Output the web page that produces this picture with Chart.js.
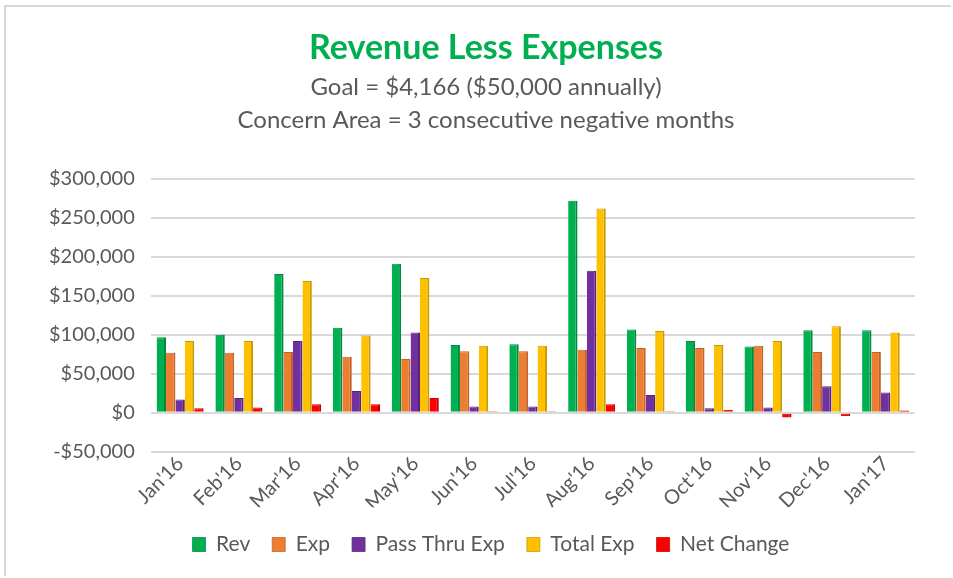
<html>
<head>
<meta charset="utf-8"/>
<title>Revenue Less Expenses</title>
<script src="https://cdn.jsdelivr.net/npm/chart.js@4.4.1/dist/chart.umd.min.js"></script>
<style>
  body { margin: 0; background: #fff; }
  #frame { position: absolute; left: 4px; top: 5px; width: 947px; height: 571px; border: 2px solid #d9d9d9; border-right: none; border-bottom: none; box-sizing: border-box; }
  #wrap { position: absolute; left: 0; top: 0; width: 953px; height: 578px; }
</style>
</head>
<body>
<div id="frame"></div>
<div id="wrap"><canvas id="myChart"></canvas></div>
<script>
// months
var months = ["Jan'16","Feb'16","Mar'16","Apr'16","May'16","Jun'16","Jul'16","Aug'16","Sep'16","Oct'16","Nov'16","Dec'16","Jan'17"];
// values
var rev       = [97000, 100000, 178000, 109000, 191000, 87000, 88000, 272000, 107000, 92000, 85000, 106000, 106000];
var exp       = [77000, 77000, 78000, 72000, 69000, 79000, 79000, 81000, 83000, 83000, 86000, 78000, 78000];
var passThru  = [17000, 19000, 92000, 28000, 103000, 8000, 8000, 182000, 23000, 6000, 7000, 34000, 26000];
var totalExp  = [92000, 92000, 169000, 99000, 173000, 86000, 86000, 262000, 105000, 87000, 92000, 111000, 103000];
var netChange = [6000, 7000, 11000, 11000, 19000, 2000, 2000, 11000, 2000, 4000, -6000, -4000, 3000];

function money(v){
    var s = '$' + Math.abs(v).toLocaleString('en-US');
    return v < 0 ? '-' + s : s;
}

function series(label, data, fill, side){
    return {
        label: label, data: data,
        backgroundColor: fill, borderColor: side,
        borderWidth: {right: 2, top: 1, left: 0, bottom: 0},
        borderSkipped: false,
        categoryPercentage: 0.8, barPercentage: 1.0
    };
}

// nudge title and legend a little to the right, like the excel original
var nudge = {
    id: 'nudge',
    afterLayout: function(chart){
        chart.boxes.forEach(function(b){
            var dx = 0;
            if (b === chart.legend) dx = 17;
            else if (b.position === 'top') dx = 12;
            b.left += dx; b.right += dx;
        });
    }
};

var ctx = document.getElementById("myChart");
var myChart = new Chart(ctx, {
    type: 'bar',
    data: {
        labels: months,
        datasets: [
            series('Rev', rev, '#00b050', '#008a3e'),
            series('Exp', exp, '#ed7d31', '#c0632a'),
            series('Pass Thru Exp', passThru, '#7030a0', '#55247a'),
            series('Total Exp', totalExp, '#ffc000', '#c99a00'),
            series('Net Change', netChange, '#ff0000', '#c00000')
        ]
    },
    plugins: [nudge],
    options: {
        responsive: true,
        maintainAspectRatio: false,
        animation: false,
        layout: { padding: {left: 33, right: 38, top: 18, bottom: 13} },
        plugins: {
            title: {
                display: true,
                text: 'Revenue Less Expenses',
                color: '#00b050',
                font: {family: 'Lato', size: 34, weight: 'bold'},
                padding: {top: 10, bottom: 2}
            },
            subtitle: {
                display: true,
                text: ['Goal = $4,166 ($50,000 annually)', 'Concern Area = 3 consecutive negative months'],
                color: '#595959',
                font: {family: 'Lato', size: 24, lineHeight: 1.375},
                padding: {bottom: 42}
            },
            legend: {
                position: 'bottom',
                title: { display: true, text: ' ', font: {size: 4}, padding: {top: 0, bottom: 0} },
                labels: {
                    color: '#595959',
                    font: {family: 'Lato', size: 21},
                    boxWidth: 13, boxHeight: 14,
                    padding: 22
                }
            },
            tooltip: { enabled: false }
        },
        scales: {
            x: {
                grid: { display: false },
                border: { display: false },
                ticks: {
                    color: '#595959',
                    font: {family: 'Lato', size: 20},
                    maxRotation: 45, minRotation: 45,
                    padding: -8
                }
            },
            y: {
                min: -50000, max: 300000,
                border: { display: false },
                grid: { color: '#d9d9d9', lineWidth: 2, drawTicks: false },
                ticks: {
                    stepSize: 50000,
                    color: '#595959',
                    font: {family: 'Lato', size: 20},
                    padding: 16,
                    callback: function(v){ return money(v); }
                }
            }
        }
    }
});
</script>
</body>
</html>
